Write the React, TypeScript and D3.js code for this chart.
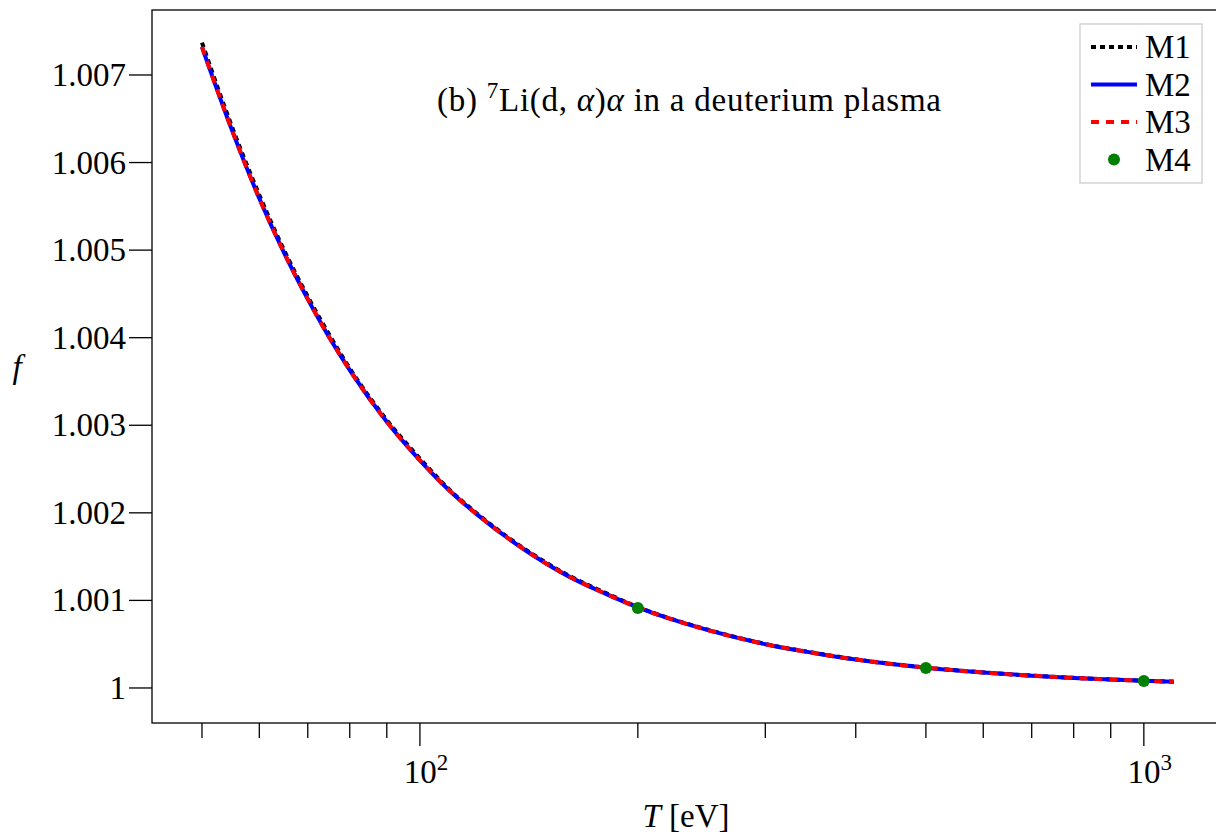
import React, { useMemo } from 'react';
import * as d3 from 'd3';

// temperatures [eV] and f values
const temps = [50, 55, 60, 65, 70, 75, 80, 90, 100, 110, 120, 140, 160, 180, 200, 250, 300, 350, 400, 500, 600, 700, 800, 900, 1000, 1100];
const fM1 = [1.00737, 1.00641, 1.00563, 1.00499, 1.00447, 1.00403, 1.00365, 1.00306, 1.00262, 1.00226, 1.00199, 1.00158, 1.00129, 1.00109, 1.000925, 1.000665, 1.000503, 1.000402, 1.000327, 1.000233, 1.000178, 1.000141, 1.000116, 1.000097, 1.000083, 1.000072];
const fM2 = [1.00732, 1.00637, 1.00559, 1.00496, 1.00444, 1.004, 1.00363, 1.00304, 1.0026, 1.00225, 1.00198, 1.00157, 1.00128, 1.00108, 1.00092, 1.00066, 1.0005, 1.0004, 1.000325, 1.000232, 1.000177, 1.00014, 1.000115, 1.000096, 1.000082, 1.000071];
const fM3 = fM2;
const tM4 = [200, 500, 1000];
const fM4 = [1.000913, 1.000228, 1.00008];

const yTicks = [1, 1.001, 1.002, 1.003, 1.004, 1.005, 1.006, 1.007];
const xMinor = [50, 60, 70, 80, 90, 200, 300, 400, 500, 600, 700, 800, 900];
const xMajor = [{ v: 100, exp: '2' }, { v: 1000, exp: '3' }];

const legendItems = [
  { name: 'M1', color: '#000000', dash: '5,4', kind: 'line' },
  { name: 'M2', color: '#0000ff', dash: null, kind: 'line' },
  { name: 'M3', color: '#ff0000', dash: '8,7', kind: 'line' },
  { name: 'M4', color: '#008000', dash: null, kind: 'dot' },
];

const FONT = '"Liberation Serif", "Times New Roman", serif';

const App = () => {
  const width = 1216;
  const height = 839;
  const m = { left: 152, top: 10, right: 1218, bottom: 723 };

  const { x, y, line } = useMemo(() => {
    const x = d3.scaleLog().domain([42.65, 1266]).range([m.left, m.right]);
    const y = d3.scaleLinear().domain([0.9996, 1.007742]).range([m.bottom, m.top]);
    const line = d3.line<[number, number]>()
      .x(d => x(d[0]))
      .y(d => y(d[1]))
      .curve(d3.curveMonotoneX);
    return { x, y, line };
  }, []);

  const series = (vals: number[]) => temps.map((t, i) => [t, vals[i]] as [number, number]);

  return (
    <svg width={width} height={height} style={{ position: 'absolute', left: 0, top: 0, background: '#fff' }} fontFamily={FONT}>
      <defs>
        <clipPath id="plotArea">
          <rect x={m.left} y={m.top} width={m.right - m.left} height={m.bottom - m.top} />
        </clipPath>
      </defs>

      {/* curves */}
      <g clipPath="url(#plotArea)" fill="none">
        <path d={line(series(fM1)) || ''} stroke="#000" strokeWidth={4} strokeDasharray="5,4" />
        <path d={line(series(fM2)) || ''} stroke="#0000ff" strokeWidth={4} />
        <path d={line(series(fM3)) || ''} stroke="#ff0000" strokeWidth={4} strokeDasharray="8,7" />
        {tM4.map((t, i) => (
          <circle key={t} cx={x(t)} cy={y(fM4[i])} r={6} fill="#008000" />
        ))}
      </g>

      {/* frame */}
      <rect x={m.left} y={m.top} width={m.right - m.left} height={m.bottom - m.top} fill="none" stroke="#000" strokeWidth={1.3} />

      {/* y axis */}
      {yTicks.map(v => (
        <g key={v}>
          <line x1={m.left - 23} x2={m.left} y1={y(v)} y2={y(v)} stroke="#000" strokeWidth={1.3} />
          <text x={126} y={y(v) + 11} textAnchor="end" fontSize={33} fill="#000">{v === 1 ? '1' : d3.format('.3f')(v)}</text>
        </g>
      ))}
      <text x={17} y={378} fontSize={33} fontStyle="italic" textAnchor="middle">f</text>

      {/* x axis */}
      {xMinor.map(v => (
        <line key={v} x1={x(v)} x2={x(v)} y1={m.bottom} y2={m.bottom + 15} stroke="#000" strokeWidth={1.3} />
      ))}
      {xMajor.map(t => (
        <g key={t.v}>
          <line x1={x(t.v)} x2={x(t.v)} y1={m.bottom} y2={m.bottom + 23} stroke="#000" strokeWidth={1.3} />
          <text x={x(t.v) + 6} y={783} textAnchor="middle" fontSize={33}>
            10<tspan fontSize={23} dy={-13}>{t.exp}</tspan>
          </text>
        </g>
      ))}
      <text x={686} y={827} textAnchor="middle" fontSize={33}>
        <tspan fontStyle="italic">T</tspan> [eV]
      </text>

      {/* annotation */}
      <text x={437} y={111} fontSize={33} textLength={504} lengthAdjust="spacing">
        (b) <tspan fontSize={23} dy={-13}>7</tspan><tspan dy={13}>Li(d,</tspan><tspan fontStyle="italic"> α</tspan>)<tspan fontStyle="italic">α</tspan> in a deuterium plasma
      </text>

      {/* legend */}
      <rect x={1080} y={24} width={122} height={159} fill="#fff" stroke="#cccccc" strokeWidth={1.3} />
      {legendItems.map((d, i) => {
        const cy = 47 + i * 37.5;
        return (
          <g key={d.name}>
            {d.kind === 'line' ? (
              <line x1={1091} x2={1137} y1={cy} y2={cy} stroke={d.color} strokeWidth={4} strokeDasharray={d.dash || undefined} />
            ) : (
              <circle cx={1114} cy={cy} r={6} fill={d.color} />
            )}
            <text x={1145} y={cy + 11} fontSize={33}>{d.name}</text>
          </g>
        );
      })}
    </svg>
  );
};

export default App;
